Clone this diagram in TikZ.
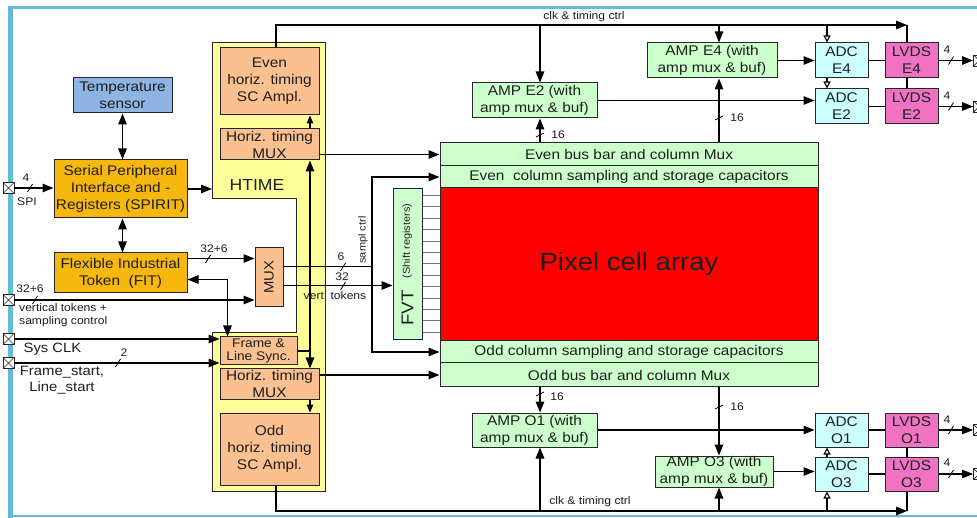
\documentclass[tikz,border=0pt]{standalone}
\usepackage{fontspec}
\newfontfamily\af{Liberation Sans}[FakeStretch=1.1]
\usetikzlibrary{arrows.meta,calc}
\definecolor{cgold}{RGB}{246,184,14}
\definecolor{cpeach}{RGB}{250,192,143}
\definecolor{cyel}{RGB}{255,255,153}
\definecolor{cgreen}{RGB}{204,255,204}
\definecolor{ccyan}{RGB}{204,255,255}
\definecolor{cpink}{RGB}{240,115,195}
\definecolor{cblue}{RGB}{141,180,226}
\definecolor{cframe}{RGB}{100,185,215}
\definecolor{ctext}{RGB}{30,30,30}
\newcommand\fz[2]{\af\fontsize{#1}{#2}\selectfont}
\newcommand\bustickH[2]{\draw[line width=0.8pt] (#1-2.5,#2+4) -- (#1+2.5,#2-4);}
\newcommand\bustickV[2]{\draw[line width=0.8pt] (#1-4,#2+2) -- (#1+4,#2-2);}
\tikzset{
 box/.style={draw=black!85, line width=1pt, align=center, inner sep=0pt, text=ctext, font=\fz{14}{17}},
 wire/.style={line width=1.2pt},
 arr/.style={line width=1.2pt, -{Triangle[length=11pt,width=8.5pt]}},
 sarr/.style={line width=1.2pt, -{Triangle[length=8pt,width=6.5pt]}},
 darr/.style={line width=1.2pt, {Triangle[length=11pt,width=8.5pt]}-{Triangle[length=11pt,width=8.5pt]}},
 oarr/.style={line width=1.1pt, -{Triangle[open,length=7pt,width=7pt]}},
 lbl/.style={inner sep=0pt, text=ctext, font=\fz{11}{13}},
 pad/.style={draw=black!85, line width=0.9pt, fill=white, minimum size=11pt, inner sep=0pt,
   path picture={\draw[line width=0.7pt] (path picture bounding box.north west) -- (path picture bounding box.south east)
   (path picture bounding box.north east) -- (path picture bounding box.south west);}},
}
\begin{document}
\begin{tikzpicture}[x=1pt,y=-1pt]
\useasboundingbox (0,0) rectangle (977,518);
\fill[white] (0,0) rectangle (977,518);
% outer frame
\draw[cframe, line width=3pt] (10,8) -- (1000,8);
\draw[cframe, line width=2pt] (10,516) -- (1000,516);
\draw[cframe, line width=5pt] (10,6.5) -- (10,520);

% HTIME region
\draw[fill=cyel, line width=1pt, draw=black!85] (212,43) -- (325,43) -- (325,491) -- (212,491) -- (212,333) -- (296,333) -- (296,199) -- (212,199) -- cycle;
\node[lbl, font=\fz{16}{19}] (htimelbl) at (257,185) {HTIME};
\coordinate (htimeL) at (212,188);

% left blocks
\node[box, fill=cblue, minimum width=99pt, minimum height=35pt] (temp) at (122.5,95.5) {Temperature\\sensor};
\node[box, fill=cgold, minimum width=133pt, minimum height=58pt] (spirit) at (120.5,189) {Serial Peripheral\\Interface and -\\Registers (SPIRIT)};
\node[box, fill=cgold, minimum width=133pt, minimum height=40pt] (fit) at (120.5,273) {Flexible Industrial\\Token\ \ (FIT)};

% htime blocks
\node[box, fill=cpeach, minimum width=99pt, minimum height=67pt] (even) at (269.5,81.5) {Even\\horiz. timing\\SC Ampl.};
\node[box, fill=cpeach, minimum width=99pt, minimum height=31pt] (hmuxE) at (269.5,144.5) {Horiz. timing\\MUX};
\node[box, fill=cpeach, minimum width=77pt, minimum height=28pt, font=\fz{12.5}{13.5}] (frame) at (258.5,351) {Frame \&\\Line Sync.};
\node[box, fill=cpeach, minimum width=99pt, minimum height=30pt] (hmuxO) at (269.5,384) {Horiz. timing\\MUX};
\node[box, fill=cpeach, minimum width=99pt, minimum height=72pt] (odd) at (269.5,449) {Odd\\horiz. timing\\SC Ampl.};
\node[box, fill=cpeach, minimum width=28pt, minimum height=59pt] (mux) at (269,277.5) {};
\node[lbl, font=\fz{13.5}{15}, rotate=90] (muxlbl) at (mux.center) {MUX};

% pixel array
\node[box, fill=cgreen, minimum width=378pt, minimum height=23pt] (evenbus) at (629,154.5) {Even bus bar and column Mux};
\node[box, fill=cgreen, minimum width=378pt, minimum height=22pt] (evensamp) at (629,177) {Even\ \ column sampling and storage capacitors};
\node[box, fill=red, minimum width=378pt, minimum height=153pt, font=\fz{25}{30}] (pixel) at (629,264.5) {Pixel cell array};
\node[box, fill=cgreen, minimum width=378pt, minimum height=22pt] (oddsamp) at (629,352) {Odd column sampling and storage capacitors};
\node[box, fill=cgreen, minimum width=378pt, minimum height=24pt] (oddbus) at (629,375) {Odd bus bar and column Mux};

% FVT
\node[box, fill=cgreen, minimum width=29pt, minimum height=151pt] (fvt) at (407.5,264.5) {};
\node[lbl, rotate=90] (fvtlbl) at (fvt.center) {{\fz{17}{19}FVT}\hspace{12pt}\raisebox{3.5pt}{\fz{10}{11}(Shift registers)}};
\foreach \i in {0,...,12} {
  \draw[black!55, line width=0.8pt] ($(fvt.north east)+(0,7+11.4*\i)$) coordinate (fl) -- (fl -| pixel.west);
}

% amplifiers etc
\node[box, fill=cgreen, minimum width=125pt, minimum height=35pt] (ampE2) at (534.5,100.5) {AMP E2 (with\\amp mux \& buf)};
\node[box, fill=cgreen, minimum width=130pt, minimum height=35pt] (ampE4) at (712,60.5) {AMP E4 (with\\amp mux \& buf)};
\node[box, fill=cgreen, minimum width=125pt, minimum height=34pt] (ampO1) at (534.5,430) {AMP O1 (with\\amp mux \& buf)};
\node[box, fill=cgreen, minimum width=118pt, minimum height=31pt] (ampO3) at (714,471.5) {AMP O3 (with\\amp mux \& buf)};

\node[box, fill=ccyan, minimum width=53pt, minimum height=35pt] (adcE4) at (841.5,60.5) {ADC\\E4};
\node[box, fill=ccyan, minimum width=53pt, minimum height=35pt] (adcE2) at (841.5,106.5) {ADC\\E2};
\node[box, fill=ccyan, minimum width=53pt, minimum height=34pt] (adcO1) at (841.5,430) {ADC\\O1};
\node[box, fill=ccyan, minimum width=53pt, minimum height=34pt] (adcO3) at (841.5,474) {ADC\\O3};
\node[box, fill=cpink, minimum width=53pt, minimum height=35pt] (lvdsE4) at (911.5,60.5) {LVDS\\E4};
\node[box, fill=cpink, minimum width=53pt, minimum height=35pt] (lvdsE2) at (911.5,106.5) {LVDS\\E2};
\node[box, fill=cpink, minimum width=53pt, minimum height=34pt] (lvdsO1) at (911.5,430) {LVDS\\O1};
\node[box, fill=cpink, minimum width=53pt, minimum height=34pt] (lvdsO3) at (911.5,474) {LVDS\\O3};

% pads
\node[pad] (padSPI) at (8.5,188) {};
\node[pad] (padVT) at (8.5,300) {};
\node[pad] (padCLK) at (8.5,339) {};
\node[pad] (padFS) at (8.5,363) {};
\node[pad] (pE4) at (979,60.5) {};
\node[pad] (pE2) at (979,106.5) {};
\node[pad] (pO1) at (979,430) {};
\node[pad] (pO3) at (979,474) {};

% left connections
\draw[arr] (padSPI.east) -- (spirit.west |- padSPI);
\bustickH{30}{188}
\node[lbl] (l4spi) at (26,178) {4};
\node[lbl] (lspi) at (27,202) {SPI};
\draw[arr] (spirit.east) -- (spirit.east -| htimeL);
\draw[darr] (temp.south) -- (temp.south |- spirit.north);
\draw[darr] (spirit.south -| temp.south) -- (fit.north -| temp.south);
\draw[arr] ($(fit.north east)+(0,6)$) coordinate (f1) -- (f1 -| mux.west);
\bustickH{208}{259}
\node[lbl] (l326a) at (214,249) {32+6};
\draw[arr] (padVT.east) -- (padVT.east -| mux.west);
\bustickH{35}{300}
\node[lbl] (l326b) at (30,289) {32+6};
\node[lbl, anchor=north west, align=left, font=\fz{11}{13}] (lvt) at (19,303) {vertical tokens +\\sampling control};
\draw[darr] ($(fit.south east)+(0,-14)$) -| ($(frame.north west)+(8,0)$);
\draw[arr] (padCLK.east) -- (padCLK.east -| frame.west);
\node[lbl, font=\fz{13.5}{15}] (lclk) at (52.5,349) {Sys CLK};
\draw[arr] (padFS.east) -- (padFS.east -| frame.west);
\bustickH{118}{363}
\node[lbl] (l2) at (124,353) {2};
\node[lbl, font=\fz{13.5}{15.5}, align=center] (lfs) at (62,380) {Frame\_start,\\Line\_start};

% mux outputs
\coordinate (xs) at (372,0);
\draw[wire] ($(mux.north east)+(0,19)$) coordinate (m1) -- (m1 -| xs);
\draw[arr] (m1 -| xs) |- (evensamp.west);
\draw[arr] (m1 -| xs) |- (oddsamp.west);
\draw[arr] ($(mux.north east)+(0,38)$) coordinate (m2) -- (m2 -| fvt.west);
\bustickH{343}{267}
\bustickH{343}{286}
\node[lbl] (l6) at (341,257) {6};
\node[lbl] (l32) at (342,277) {32};
\node[lbl, rotate=90, font=\fz{10}{11}] (lsampl) at (363,240) {sampl ctrl};
\node[lbl] (lvtok) at (335,296) {vert\ \ tokens};

% htime internal
\coordinate (xv) at (310,0);
\draw[arr] (hmuxE.east |- evenbus.west) -- (evenbus.west);
\draw[arr] (hmuxO.east |- oddbus.west) -- (oddbus.west);
\draw[darr] (hmuxE.south -| xv) -- (hmuxO.north -| xv);
\draw[wire] (frame.east) -- (frame.east -| xv);
\draw[sarr] (hmuxE.north -| xv) -- (even.south -| xv);
\draw[sarr] (hmuxO.south -| xv) -- (odd.north -| xv);

% clock lines
\coordinate (ct1) at (276,25);
\coordinate (ct2) at (907,25);
\coordinate (cb1) at (276,511);
\coordinate (cb2) at (907,511);
\coordinate (xE2) at (540,0);
\coordinate (xE4) at (719,0);
\coordinate (xA) at (827,0);
\draw[arr] (even.north -| ct1) -- (ct1) -- (ct2);
\draw[wire] (ct2) -- (lvdsE4.north -| ct2);
\draw[arr] (ct1 -| xE2) -- (ampE2.north -| xE2);
\draw[arr] (ct1 -| xE4) -- (ampE4.north -| xE4);
\draw[oarr] (ct1 -| xA) -- (adcE4.north -| xA);
\draw[oarr] (adcE4.south -| xA) -- (adcE2.north -| xA);
\node[lbl] (lclkt) at (584,17) {clk \& timing ctrl};
\draw[arr] (odd.south -| cb1) -- (cb1) -- (cb2);
\draw[wire] (cb2) -- (lvdsO3.south -| cb2);
\draw[arr] (cb1 -| xE2) -- (ampO1.south -| xE2);
\draw[arr] (cb1 -| xE4) -- (ampO3.south -| xE4);
\draw[oarr] (cb1 -| xA) -- (adcO3.south -| xA);
\draw[oarr] (adcO3.north -| xA) -- (adcO1.south -| xA);
\node[lbl] (lclkb) at (590,502) {clk \& timing ctrl};

% bus to amps
\draw[arr] (evenbus.north -| xE2) -- (ampE2.south -| xE2);
\bustickV{540}{135}
\node[lbl] (l16a) at (558,135) {16};
\draw[arr] (evenbus.north -| xE4) -- (ampE4.south -| xE4);
\bustickV{719}{118}
\node[lbl] (l16b) at (737,118) {16};
\draw[arr] (oddbus.south -| xE2) -- (ampO1.north -| xE2);
\bustickV{540}{394}
\node[lbl] (l16c) at (557,397) {16};
\draw[arr] (oddbus.south -| xE4) -- (ampO3.north -| xE4);
\bustickV{719}{407}
\node[lbl] (l16d) at (737,407) {16};

% amp -> adc -> lvds
\draw[arr] (ampE4.east) -- (adcE4.west);
\draw[arr] (ampE2.east) -- (ampE2.east -| adcE2.west);
\draw[arr] (ampO1.east) -- (adcO1.west);
\draw[arr] (ampO3.east) -- (ampO3.east -| adcO3.west);
\draw[wire] (adcE4.east) -- (lvdsE4.west);
\draw[wire] (adcE2.east) -- (lvdsE2.west);
\draw[wire] (adcO1.east) -- (lvdsO1.west);
\draw[wire] (adcO3.east) -- (lvdsO3.west);
\draw[wire] (lvdsE4.south -| ct2) -- (lvdsE2.north -| ct2);
\draw[wire] (lvdsO1.south -| ct2) -- (lvdsO3.north -| ct2);

% outputs
\draw[arr] (lvdsE4.east) -- (pE4.west);
\draw[arr] (lvdsE2.east) -- (pE2.west);
\draw[arr] (lvdsO1.east) -- (pO1.west);
\draw[arr] (lvdsO3.east) -- (pO3.west);
\bustickH{951}{60.5}
\bustickH{951}{106.5}
\bustickH{951}{430}
\bustickH{951}{474}
\node[lbl] (l4a) at (947,50) {4};
\node[lbl] (l4b) at (947,96) {4};
\node[lbl] (l4c) at (947,420) {4};
\node[lbl] (l4d) at (947,463) {4};
\end{tikzpicture}
\end{document}
